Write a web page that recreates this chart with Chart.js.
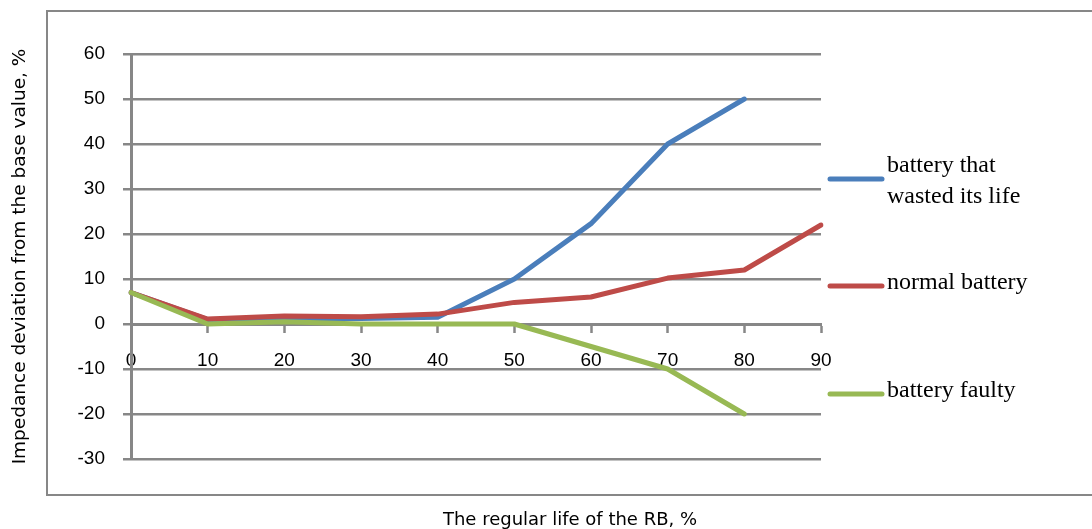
<!DOCTYPE html>
<html>
<head>
<meta charset="utf-8">
<script src="https://cdn.jsdelivr.net/npm/chart.js@4/dist/chart.umd.min.js"></script>
<style>
  html, body { margin: 0; padding: 0; background: #fff; overflow: hidden; }
</style>
</head>
<body>
<canvas id="chart" width="1092" height="529"></canvas>
<script>
// Datos
const lifeLabels = ["0", "10", "20", "30", "40", "50", "60", "70", "80", "90"];
const wastedLife = [7, 1, 1.2, 1.2, 1.5, 10, 22.3, 40, 50, null];
const normalBattery = [7, 1.1, 1.8, 1.6, 2.2, 4.8, 6, 10.2, 12, 22];
const faultyBattery = [7, 0, 0.5, 0, 0, 0, -5, -10, -20, null];
const yTicks = [60, 50, 40, 30, 20, 10, 0, -10, -20, -30];

const seriesNames = [["battery that", "wasted its life"], ["normal battery"], ["battery faulty"]];
const seriesColors = ["#4a7ebb", "#be4b48", "#98b954"];

const GRID = "#878787";
const SANS = "'Liberation Sans', Arial, sans-serif";

// marco, título del eje X y leyenda
const decoracion = {
  id: "decoracion",
  beforeDraw(chart) {
    const ctx = chart.ctx;
    ctx.save();
    ctx.strokeStyle = GRID;
    ctx.lineWidth = 2;
    ctx.strokeRect(47, 11, 1060, 484);
    ctx.restore();
  },
  afterDraw(chart) {
    const ctx = chart.ctx;
    ctx.save();
    ctx.fillStyle = "#000";
    ctx.font = "18px 'DejaVu Sans', sans-serif";
    ctx.textAlign = "center";
    ctx.textBaseline = "alphabetic";
    ctx.fillText("The regular life of the RB, %", 570, 525);

    // leyenda
    const legendY = [179, 286, 394];
    ctx.font = "24px 'Liberation Serif', 'Times New Roman', serif";
    ctx.textAlign = "left";
    chart.data.datasets.forEach((ds, i) => {
      ctx.strokeStyle = ds.borderColor;
      ctx.lineWidth = 5;
      ctx.lineCap = "round";
      ctx.beginPath();
      ctx.moveTo(830, legendY[i]);
      ctx.lineTo(882, legendY[i]);
      ctx.stroke();
      const lines = seriesNames[i];
      ctx.fillStyle = "#000";
      if (lines.length === 2) {
        ctx.fillText(lines[0], 887, legendY[i] - 7);
        ctx.fillText(lines[1], 887, legendY[i] + 24);
      } else {
        ctx.fillText(lines[0], 887, legendY[i] + 3);
      }
    });
    ctx.restore();
  }
};

new Chart(document.getElementById("chart"), {
  type: "line",
  data: {
    labels: lifeLabels,
    datasets: [
      { label: seriesNames[0].join(" "), data: wastedLife, borderColor: seriesColors[0], order: 2 },
      { label: seriesNames[1].join(" "), data: normalBattery, borderColor: seriesColors[1], order: 1 },
      { label: seriesNames[2].join(" "), data: faultyBattery, borderColor: seriesColors[2], order: 0 }
    ].map((d) => ({ ...d, borderWidth: 5, pointRadius: 0, tension: 0, fill: false, borderCapStyle: "round", borderJoinStyle: "round" }))
  },
  options: {
    responsive: false,
    animation: false,
    devicePixelRatio: 1,
    layout: { padding: { top: 54, right: 271, bottom: 70, left: 0 } },
    plugins: {
      legend: { display: false },
      tooltip: { enabled: false }
    },
    scales: {
      x: {
        type: "category",
        offset: false,
        position: { y: 0 },
        grid: { display: true, drawOnChartArea: false, drawTicks: true, tickLength: 7, tickWidth: 2.5, tickColor: GRID },
        border: { display: true, color: GRID, width: 3 },
        ticks: { color: "#000", font: { size: 19, family: SANS }, padding: 18, maxRotation: 0 }
      },
      y: {
        min: -30,
        max: 60,
        afterFit: (s) => { s.width = 131; },
        afterBuildTicks: (s) => { s.ticks = yTicks.map((v) => ({ value: v })); },
        grid: { color: GRID, lineWidth: 2.5, tickLength: 8, drawTicks: true },
        border: { display: true, color: GRID, width: 3 },
        ticks: { color: "#000", font: { size: 19, family: SANS }, padding: 18 },
        title: {
          display: true,
          text: "Impedance deviation from the base value, %",
          color: "#000",
          font: { size: 18.5, family: "'DejaVu Sans', sans-serif" },
          padding: { top: 9, bottom: 0 }
        }
      }
    }
  },
  plugins: [decoracion]
});
</script>
</body>
</html>
